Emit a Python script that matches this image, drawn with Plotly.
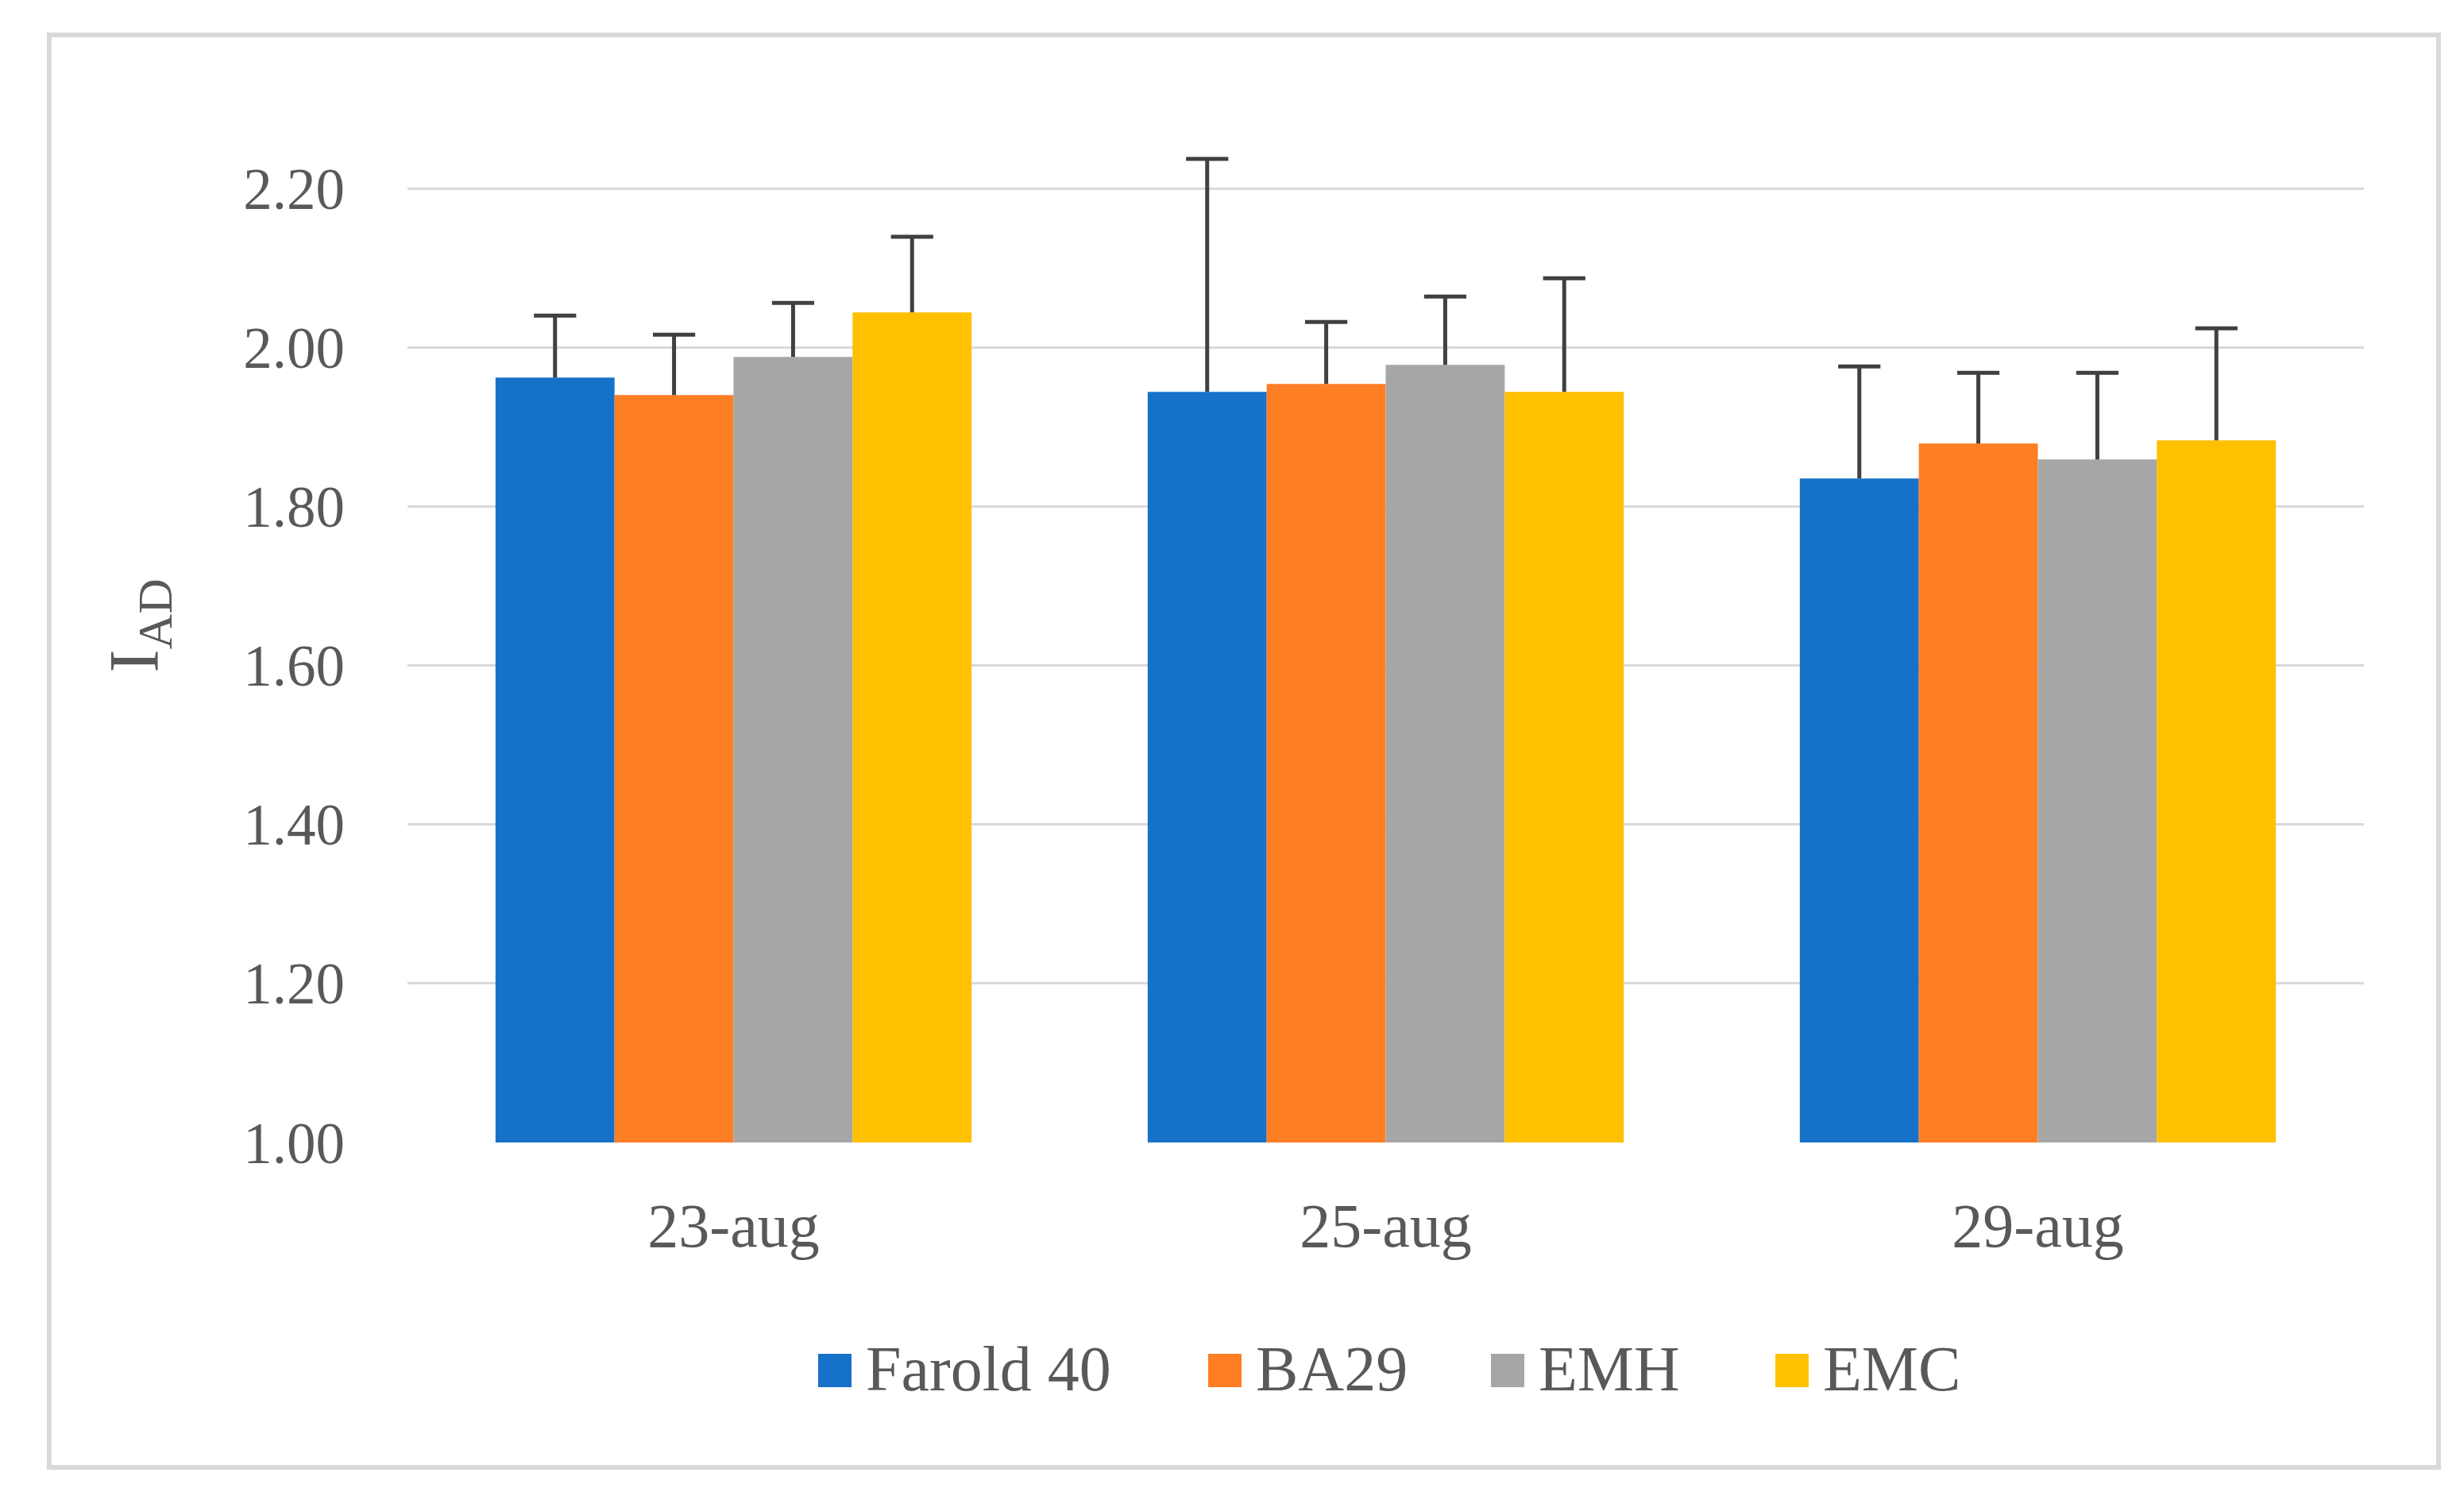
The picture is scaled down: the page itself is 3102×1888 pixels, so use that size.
import plotly.graph_objects as go

categories = ["23-aug", "25-aug", "29-aug"]
series_names = ["Farold 40", "BA29", "EMH", "EMC"]
values = {
    "Farold 40": [1.962, 1.944, 1.835],
    "BA29": [1.940, 1.954, 1.879],
    "EMH": [1.988, 1.978, 1.859],
    "EMC": [2.044, 1.944, 1.883],
}
errors = {
    "Farold 40": [0.078, 0.293, 0.141],
    "BA29": [0.076, 0.078, 0.089],
    "EMH": [0.068, 0.086, 0.109],
    "EMC": [0.095, 0.143, 0.141],
}
colors = {
    "Farold 40": "#1572C8",
    "BA29": "#FE7E24",
    "EMH": "#A6A6A6",
    "EMC": "#FFC000",
}
y_ticks = [1.00, 1.20, 1.40, 1.60, 1.80, 2.00, 2.20]
y_ticktext = ["%.2f" % v for v in y_ticks]

W, H = 3102, 1888
L, R, T, B = 505, 134, 129, 458
PW, PH = W - L - R, H - T - B

FONT = "Liberation Serif"
TXT = "#595959"
ERR = "#404040"

fig = go.Figure()
for name in series_names:
    fig.add_trace(go.Bar(
        name=name,
        x=categories,
        y=values[name],
        offsetgroup=name, alignmentgroup="g",
        marker=dict(color=colors[name], line=dict(width=0)),
        error_y=dict(type="data", symmetric=False, array=errors[name],
                     arrayminus=[0] * len(categories), visible=True,
                     color=ERR, thickness=5, width=0),
        showlegend=False,
    ))
# error-bar caps (top only), aligned with the grouped bars
for name in series_names:
    tops = [v + e for v, e in zip(values[name], errors[name])]
    fig.add_trace(go.Scatter(
        name=name,
        x=categories,
        y=tops,
        mode="markers",
        offsetgroup=name, alignmentgroup="g",
        marker=dict(symbol="line-ew", size=38, color=ERR,
                    line=dict(color=ERR, width=5)),
        showlegend=False, hoverinfo="skip",
    ))


def px2paper_x(px):
    return (px - L) / PW


def px2paper_y(py):
    return (H - B - py) / PH


shapes = []
annotations = []
# outer chart border
shapes.append(dict(type="rect", xref="paper", yref="paper",
                   x0=px2paper_x(54), x1=px2paper_x(3062),
                   y0=px2paper_y(1839), y1=px2paper_y(36),
                   line=dict(color="#D9D9D9", width=6), fillcolor="rgba(0,0,0,0)",
                   layer="below"))

# legend (layout positions in pixels)
legend_square_x = [1022, 1513, 1869, 2227]
legend_y_center = 1717
sq = 42
for name, sx in zip(series_names, legend_square_x):
    shapes.append(dict(type="rect", xref="paper", yref="paper",
                       x0=px2paper_x(sx), x1=px2paper_x(sx + sq),
                       y0=px2paper_y(legend_y_center + sq / 2),
                       y1=px2paper_y(legend_y_center - sq / 2),
                       line=dict(width=0), fillcolor=colors[name]))
    annotations.append(dict(xref="paper", yref="paper",
                            x=px2paper_x(sx + sq + 16), y=px2paper_y(legend_y_center - 2),
                            xanchor="left", yanchor="middle", showarrow=False,
                            text=name, font=dict(family=FONT, size=80, color=TXT)))

fig.update_layout(
    width=W, height=H,
    margin=dict(l=L, r=R, t=T, b=B, autoexpand=False),
    paper_bgcolor="white", plot_bgcolor="white",
    barmode="group", bargap=0.27, bargroupgap=0,
    scattermode="group", scattergap=0.27,
    showlegend=False,
    shapes=shapes, annotations=annotations,
    font=dict(family=FONT, color=TXT),
)
fig.update_xaxes(
    type="category", showgrid=False, zeroline=False, showline=False,
    ticks="", tickfont=dict(family=FONT, size=78, color=TXT),
    ticklabelstandoff=52,
)
fig.update_yaxes(
    range=[1.0, 2.3], tickvals=y_ticks, ticktext=y_ticktext,
    showgrid=True, gridcolor="#D9D9D9", gridwidth=3,
    zeroline=False, showline=False, ticks="",
    tickfont=dict(family=FONT, size=73, color=TXT),
    ticklabelstandoff=78,
    title=dict(text="I<sub>AD</sub>", font=dict(family=FONT, size=88, color=TXT), standoff=78),
    automargin=False,
)

fig.write_html("out.html")
